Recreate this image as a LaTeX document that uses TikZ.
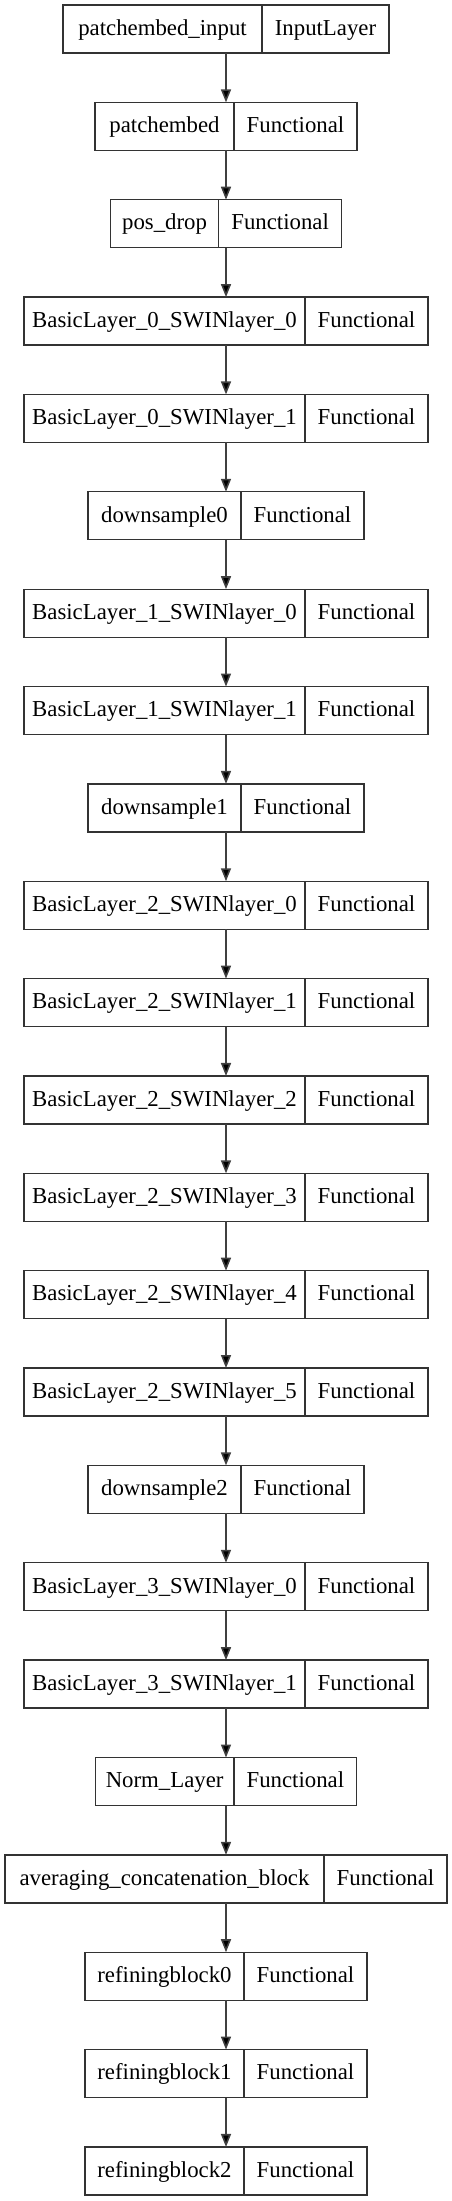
\documentclass[tikz,border=0pt]{standalone}
\usepackage{fontspec}
\setmainfont{Liberation Serif}
\usetikzlibrary{arrows.meta}

\begin{document}
\begin{tikzpicture}[x=1pt, y=-1pt,
        layer/.style={draw=black!80, line width=1.3pt, minimum height=48pt, inner sep=0pt, outer sep=0pt},
        txt/.style={font=\fontsize{22.8}{26}\selectfont, inner sep=0pt, text height=15.5pt, text depth=3pt},
        arr/.style={draw=black!75, line width=1.6pt, -{Triangle[length=13pt, width=10pt, fill=black]}}]
        \useasboundingbox (0, 0) rectangle (452, 2201);

        % one row per layer: name / type / box width / divider x
        \foreach \nm/\ty/\w/\d [count=\i from 0] in {
                patchembed\_input/InputLayer/326/262,
                patchembed/Functional/262/234,
                pos\_drop/Functional/231/218.7,
                BasicLayer\_0\_SWINlayer\_0/Functional/404/305,
                BasicLayer\_0\_SWINlayer\_1/Functional/404/305,
                downsample0/Functional/276/241,
                BasicLayer\_1\_SWINlayer\_0/Functional/404/305,
                BasicLayer\_1\_SWINlayer\_1/Functional/404/305,
                downsample1/Functional/276/241,
                BasicLayer\_2\_SWINlayer\_0/Functional/404/305,
                BasicLayer\_2\_SWINlayer\_1/Functional/404/305,
                BasicLayer\_2\_SWINlayer\_2/Functional/404/305,
                BasicLayer\_2\_SWINlayer\_3/Functional/404/305,
                BasicLayer\_2\_SWINlayer\_4/Functional/404/305,
                BasicLayer\_2\_SWINlayer\_5/Functional/404/305,
                downsample2/Functional/276/241,
                BasicLayer\_3\_SWINlayer\_0/Functional/404/305,
                BasicLayer\_3\_SWINlayer\_1/Functional/404/305,
                Norm\_Layer/Functional/261.4/234,
                averaging\_concatenation\_block/Functional/442/324,
                refiningblock0/Functional/282/244,
                refiningblock1/Functional/282/244,
                refiningblock2/Functional/282/244} {
            \pgfmathsetmacro\yy{29 + 97.36*\i}
            \pgfmathsetmacro\xl{(226 - \w/2 + \d)/2}
            \pgfmathsetmacro\xr{(\d + 226 + \w/2)/2}
            \node[layer, minimum width=\w pt] (n\i) at (226, \yy) {};
            \node[txt] (name\i) at (\xl, \yy) {\nm};
            \node[txt] (type\i) at (\xr, \yy) {\ty};
            \draw[layer] (n\i.north -| \d, 0) -- (n\i.south -| \d, 0);
        }

        \foreach \i [evaluate=\i as \j using int(\i+1)] in {0,...,21}
            \draw[arr] (n\i) -- (n\j);
    \end{tikzpicture}
\end{document}
